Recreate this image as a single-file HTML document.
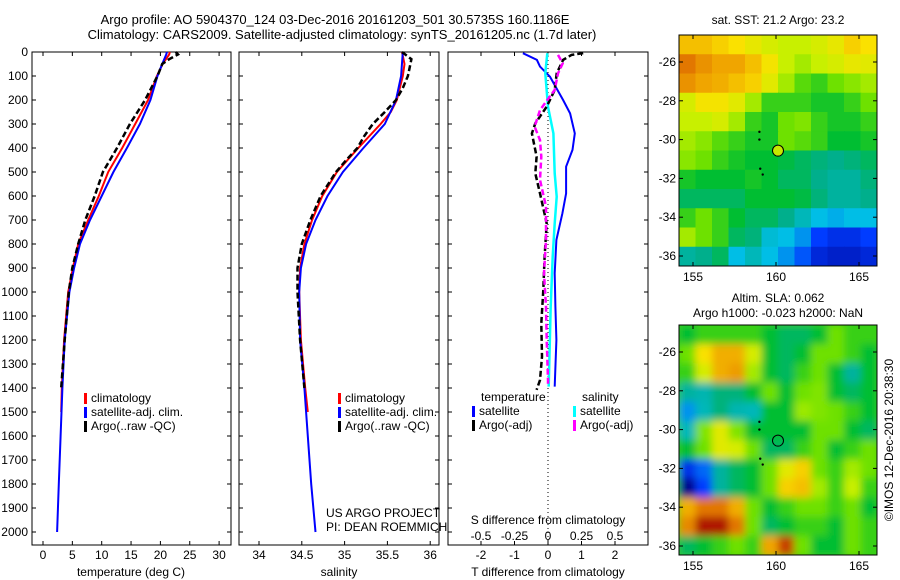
<!DOCTYPE html>
<html><head><meta charset="utf-8"><style>
body{margin:0;background:#fff;}
svg{display:block;font-family:"Liberation Sans",sans-serif;}
text{font-size:12px;fill:#000;}
</style></head><body>
<svg id="c" width="900" height="580" viewBox="0 0 900 580" xmlns="http://www.w3.org/2000/svg">
<defs><filter id="bl" x="0" y="0" width="1" height="1"><feGaussianBlur stdDeviation="4"/></filter>
<clipPath id="cm1"><rect x="679" y="35" width="198" height="231"/></clipPath>
<clipPath id="cm2"><rect x="679" y="325" width="198" height="230"/></clipPath></defs>
<text x="335" y="24" text-anchor="middle" style="font-size:13px">Argo profile: AO 5904370_124 03-Dec-2016 20161203_501 30.5735S 160.1186E</text>
<text x="342" y="39" text-anchor="middle" style="font-size:13px">Climatology: CARS2009. Satellite-adjusted climatology: synTS_20161205.nc (1.7d later)</text>
<g id="g"></g>
</svg>
<script>
// ---- data ----
const tDepth=[0,10,50,100,200,300,400,500,600,700,800,900,1000,1200,1400,1500];
const tClim=[21.6,21.5,20.4,19.4,17.9,15.7,13.5,11.1,9.5,7.7,6.0,5.1,4.3,3.6,3.2,3.1];
const tSatDepth=[0,10,50,100,200,300,400,500,600,700,800,900,1000,1200,1400,1600,1800,2000];
const tSat=[21.1,21.0,20.3,19.5,18.3,16.5,14.3,12.0,10.0,8.0,6.3,5.3,4.5,3.7,3.3,3.0,2.7,2.4];
const tArgoDepth=[0,10,30,50,100,200,300,400,500,600,700,800,900,1000,1200,1400];
const tArgo=[22.6,23.0,21.5,20.3,19.5,17.4,14.8,12.6,10.2,8.8,7.2,6.0,5.0,4.4,3.7,3.1];
const sDepth=[0,50,100,200,250,300,400,500,600,700,800,900,1000,1200,1400,1500];
const sClim=[35.67,35.70,35.68,35.61,35.54,35.42,35.16,34.91,34.74,34.62,34.53,34.48,34.47,34.49,34.54,34.57];
const sSatDepth=[0,100,200,300,400,500,600,700,800,900,1000,1200,1400,1600,1800,2000];
const sSat=[35.68,35.66,35.6,35.47,35.22,34.98,34.8,34.66,34.55,34.49,34.47,34.48,34.53,34.57,34.61,34.66];
const sArgoDepth=[0,30,100,150,200,250,300,350,400,450,500,600,700,800,900,1000,1200,1400];
const sArgo=[35.67,35.78,35.74,35.68,35.6,35.47,35.33,35.23,35.15,35.02,34.9,34.72,34.6,34.5,34.45,34.45,34.48,34.53];
const dTsatDepth=[5,33,61,103,200,256,339,408,478,589,672,783,922,1061,1200,1394];
const dTsat=[-0.75,-0.33,-0.24,0.06,0.45,0.66,0.8,0.73,0.54,0.54,0.43,0.25,0.2,0.22,0.25,0.2];
const dSsatDepth=[5,89,228,339,506,603,714,853,1061,1394];
const dSsat=[-0.005,-0.02,0,0.04,0.05,0.065,0.05,0.035,0.02,0.005];
const dTargoDepth=[5,12,33,89,158,228,297,339,436,506,589,714,853,992,1131,1269,1367,1408];
const dTargo=[1.05,0.7,0.45,0.26,0.2,-0.04,-0.38,-0.48,-0.34,-0.38,-0.24,-0.04,-0.1,-0.14,-0.2,-0.18,-0.24,-0.34];
const dSargoDepth=[12,47,89,158,242,311,367,436,533,644,783,922,1061,1200,1367,1394];
const dSargo=[0.075,0.11,0.075,0.05,-0.06,-0.1,-0.06,-0.05,-0.06,-0.015,-0.015,-0.03,-0.015,-0.01,0,0];
const depthTicks=[0,100,200,300,400,500,600,700,800,900,1000,1100,1200,1300,1400,1500,1600,1700,1800,1900,2000];
const tTicks=[0,5,10,15,20,25,30];
const sTicks=[34,34.5,35,35.5,36];
const dTTicks=[-2,-1,0,1,2];
const dSTicks=[-0.5,-0.25,0,0.25,0.5];
const dSLabels=["-0.5","-0.25","0","0.25","0.5"];
const lonTicks=[155,160,165];
const latTicks=[-26,-28,-30,-32,-34,-36];
const sstGrid=[
[0.82,0.82,0.8,0.78,0.75,0.72,0.7,0.7,0.72,0.75,0.8,0.78],
[0.9,0.87,0.85,0.85,0.82,0.77,0.7,0.66,0.7,0.72,0.75,0.74],
[0.87,0.85,0.84,0.82,0.8,0.74,0.66,0.58,0.55,0.6,0.63,0.66],
[0.72,0.77,0.77,0.74,0.66,0.55,0.55,0.55,0.52,0.52,0.55,0.6],
[0.7,0.7,0.72,0.66,0.55,0.52,0.6,0.62,0.55,0.52,0.52,0.55],
[0.66,0.63,0.58,0.55,0.52,0.52,0.6,0.58,0.55,0.5,0.5,0.52],
[0.63,0.6,0.55,0.52,0.5,0.5,0.48,0.45,0.42,0.4,0.42,0.45],
[0.52,0.5,0.5,0.5,0.52,0.5,0.45,0.45,0.4,0.38,0.38,0.42],
[0.45,0.45,0.45,0.45,0.5,0.5,0.5,0.48,0.42,0.38,0.38,0.4],
[0.55,0.6,0.55,0.5,0.45,0.45,0.4,0.35,0.3,0.28,0.3,0.3],
[0.66,0.6,0.55,0.45,0.42,0.32,0.3,0.25,0.15,0.12,0.12,0.15],
[0.38,0.4,0.45,0.3,0.35,0.3,0.25,0.18,0.1,0.08,0.08,0.1]];
const slaGrid=[
[0.5,0.55,0.55,0.55,0.55,0.5,0.45,0.45,0.5,0.6,0.55,0.55],
[0.6,0.78,0.84,0.84,0.72,0.5,0.45,0.5,0.6,0.6,0.55,0.5],
[0.55,0.72,0.84,0.86,0.66,0.5,0.45,0.55,0.6,0.5,0.38,0.5],
[0.38,0.36,0.42,0.42,0.5,0.6,0.5,0.6,0.62,0.5,0.45,0.5],
[0.25,0.35,0.42,0.36,0.35,0.5,0.5,0.65,0.62,0.6,0.55,0.5],
[0.35,0.62,0.74,0.62,0.5,0.5,0.5,0.5,0.6,0.6,0.5,0.45],
[0.5,0.6,0.74,0.72,0.6,0.45,0.45,0.55,0.6,0.5,0.55,0.6],
[0.12,0.2,0.38,0.45,0.5,0.6,0.74,0.8,0.6,0.55,0.66,0.6],
[0.0,0.15,0.38,0.45,0.5,0.6,0.8,0.82,0.66,0.55,0.7,0.55],
[0.84,0.9,0.9,0.84,0.6,0.5,0.55,0.6,0.6,0.55,0.6,0.5],
[0.88,0.98,0.98,0.9,0.6,0.45,0.5,0.55,0.55,0.5,0.6,0.55],
[0.45,0.5,0.55,0.6,0.55,0.85,0.95,0.6,0.5,0.5,0.6,0.55]];
const floatLon=160.12, floatLat=-30.57;
const trackLon=[159.0,159.0,159.05,159.2];
const trackLat=[-29.6,-30.0,-31.5,-31.8];

// ---- drawing ----
const NS="http://www.w3.org/2000/svg";
const G=document.getElementById('g');
function el(tag,at,parent){const e=document.createElementNS(NS,tag);for(const k in at)e.setAttribute(k,at[k]);(parent||G).appendChild(e);return e;}
const yD=d=>52+d*0.24;
const xT=t=>43+t*5.87;
const xS=s=>259+(s-34)*85.6;
const xDT=t=>548+t*33.5;
const xDS=s=>548+s*134;
const P=[{x0:32,x1:231},{x0:239,x1:439},{x0:448,x1:648}];
const Y0=52,Y1=545;
P.forEach((p,i)=>{
 const r=el('rect',{x:p.x0,y:Y0,width:p.x1-p.x0,height:Y1-Y0,fill:'none',stroke:'#000','stroke-width':1});
 
 
 depthTicks.forEach(d=>{
  el('line',{x1:p.x0,x2:p.x0+4,y1:yD(d),y2:yD(d),stroke:'#000'});
  el('line',{x1:p.x1,x2:p.x1-4,y1:yD(d),y2:yD(d),stroke:'#000'});
 });
});
depthTicks.forEach(d=>{const t=el('text',{x:28,y:yD(d)+4,'text-anchor':'end'});t.textContent=d;
 
 });
function xticks(vals,fx,labels,ylab,topTick){vals.forEach((v,i)=>{const x=fx(v);
 el('line',{x1:x,x2:x,y1:Y1,y2:Y1-4,stroke:'#000'});
 if(topTick)el('line',{x1:x,x2:x,y1:Y0,y2:Y0+4,stroke:'#000'});
 if(labels){const t=el('text',{x:x,y:ylab,'text-anchor':'middle'});t.textContent=labels[i];
 
 }});}
xticks(tTicks,xT,tTicks,559,true);
xticks(sTicks,xS,sTicks,559,true);
xticks(dTTicks,xDT,dTTicks,559,false);
dSTicks.forEach((v,i)=>{const x=xDS(v);el('line',{x1:x,x2:x,y1:Y0,y2:Y0+4,stroke:'#000'});
 const t=el('text',{x:x,y:540,'text-anchor':'middle'});t.textContent=dSLabels[i];
 
 });
function label(x,y,s,name,anchor){const t=el('text',{x:x,y:y,'text-anchor':anchor||'middle'});t.textContent=s;
 
 return t;}
label(131,576,'temperature (deg C)','x-axis-title-temperature');
label(339,576,'salinity','x-axis-title-salinity');
label(548,576,'T difference from climatology','x-axis-title-t-diff');
label(548,524,'S difference from climatology','s-diff-axis-title');
label(326,517,'US ARGO PROJECT','credit-project','start');
label(326,531,'PI: DEAN ROEMMICH','credit-pi','start');
el('line',{x1:548,x2:548,y1:Y0,y2:Y1,stroke:'#000','stroke-dasharray':'1,3'});
function line(ds,vs,fx,color,dash,w,name){const pts=ds.map((d,i)=>fx(vs[i]).toFixed(1)+','+yD(d).toFixed(1)).join(' ');
 const l=el('polyline',{points:pts,fill:'none',stroke:color,'stroke-width':w||2,'stroke-dasharray':dash||'none'});
 
 }
line(tDepth,tClim,xT,'#f00',null,2,'temp-climatology-line');
line(tSatDepth,tSat,xT,'#00f',null,2,'temp-satellite-line');
line(tArgoDepth,tArgo,xT,'#000','6,3',2.5,'temp-argo-line');
line(sDepth,sClim,xS,'#f00',null,2,'sal-climatology-line');
line(sSatDepth,sSat,xS,'#00f',null,2,'sal-satellite-line');
line(sArgoDepth,sArgo,xS,'#000','6,3',2.5,'sal-argo-line');
line(dTsatDepth,dTsat,xDT,'#00f',null,2,'tdiff-satellite-line');
line(dSsatDepth,dSsat,xDS,'#0ff',null,2.5,'sdiff-satellite-line');
line(dTargoDepth,dTargo,xDT,'#000','6,3',2.5,'tdiff-argo-line');
line(dSargoDepth,dSargo,xDS,'#f0f','6,3',2.5,'sdiff-argo-line');
function leg(x,y,color,txt,name){el('rect',{x:x,y:y-9,width:3,height:11,fill:color});
 label(x+7,y,txt,name,'start');}
[[84,0],[338,1]].forEach(([x,i])=>{leg(x,402,'#f00','climatology','legend-climatology-'+i);leg(x,416,'#00f','satellite-adj. clim.','legend-satellite-'+i);leg(x,430,'#000','Argo(..raw -QC)','legend-argo-'+i);});
label(481,401,'temperature','legend-temperature-header','start');
label(582,401,'salinity','legend-salinity-header','start');
leg(472,415,'#00f','satellite','legend-t-satellite');leg(472,429,'#000','Argo(-adj)','legend-t-argo');
leg(573,415,'#0ff','satellite','legend-s-satellite');leg(573,429,'#f0f','Argo(-adj)','legend-s-argo');
const cmStops=[[0,[0,0,140]],[0.15,[0,60,255]],[0.3,[0,190,230]],[0.4,[0,175,140]],[0.5,[0,190,50]],[0.6,[110,225,0]],[0.7,[200,240,0]],[0.78,[250,225,0]],[0.85,[240,165,0]],[0.92,[220,100,0]],[1,[160,0,0]]];
function cmap(v){for(let i=1;i<cmStops.length;i++){if(v<=cmStops[i][0]){const [a,ca]=cmStops[i-1],[b,cb]=cmStops[i];const f=(v-a)/(b-a);return 'rgb('+ca.map((c,k)=>Math.round(c+(cb[k]-c)*f)).join(',')+')';}}return 'rgb(160,0,0)';}
const MX0=679,MX1=877;
const xLon=l=>776+(l-160)*16.6;
function map(grid,top,bot,clip,blur,name,latY){
 const g=el('g',{'clip-path':'url(#'+clip+')'});
 
 
 const inner=el('g',blur?{filter:'url(#bl)'}:{},g);
 const rows=grid.length,cols=grid[0].length,cw=(MX1-MX0)/cols,ch=(bot-top)/rows;
 if(blur)el('rect',{x:MX0-10,y:top-10,width:MX1-MX0+20,height:bot-top+20,fill:cmap(0.55)},inner);
 grid.forEach((row,r)=>row.forEach((v,c)=>{el('rect',{x:MX0+c*cw,y:top+r*ch,width:cw+1,height:ch+1,fill:cmap(v)},inner);}));
 el('rect',{x:MX0,y:top,width:MX1-MX0,height:bot-top,fill:'none',stroke:'#000'});
 lonTicks.forEach(l=>{const x=xLon(l);el('line',{x1:x,x2:x,y1:top,y2:top+4,stroke:'#000'});el('line',{x1:x,x2:x,y1:bot,y2:bot-4,stroke:'#000'});label(x,bot+15,l,'lon-tick-label');});
 latTicks.forEach(l=>{const y=latY(l);el('line',{x1:MX0,x2:MX0+4,y1:y,y2:y,stroke:'#000'});el('line',{x1:MX1,x2:MX1-4,y1:y,y2:y,stroke:'#000'});label(MX0-3,y+4,l,'lat-tick-label','end');});
 trackLon.forEach((l,i)=>el('circle',{cx:xLon(l),cy:latY(trackLat[i]),r:1.2,fill:'#000'}));
 const c=el('circle',{cx:xLon(floatLon),cy:latY(floatLat),r:5.5,fill:blur?'none':'#c8e800',stroke:'#000','stroke-width':1});
 
 
}
map(sstGrid,35,266,'cm1',false,'sst-map',l=>62+(-26-l)*19.4);
map(slaGrid,325,555,'cm2',true,'sla-map',l=>352+(-26-l)*19.4);
label(778,24,'sat. SST: 21.2 Argo: 23.2','sst-map-title');
label(778,302,'Altim. SLA: 0.062','sla-map-title');
label(778,317,'Argo h1000: -0.023 h2000: NaN','sla-map-subtitle');
const v=label(893,440,'©IMOS 12-Dec-2016 20:38:30','imos-timestamp');
v.setAttribute('transform','rotate(-90 893 440)');
</script>
</body></html>
